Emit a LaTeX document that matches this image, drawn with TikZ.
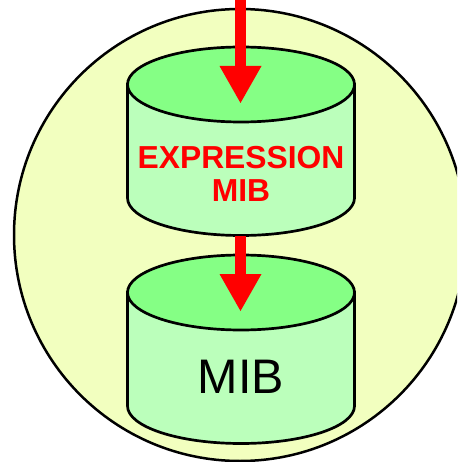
\documentclass[tikz,border=0pt]{standalone}
\usepackage{fontspec}
\setmainfont{Liberation Sans}
\definecolor{discbg}{HTML}{F2FFBF}
\definecolor{cyltop}{HTML}{85FF85}
\definecolor{cylbody}{HTML}{BBFFBB}
\tikzset{
  disc/.style={draw=black,line width=2.5pt,fill=discbg},
  cylside/.style={draw=black,line width=2.7pt,fill=cylbody},
  cyllid/.style={draw=black,line width=2.7pt,fill=cyltop},
  flow/.style={draw=red,line width=11pt},
  flowhead/.style={fill=red,draw=none},
  redlabel/.style={text=red,font=\bfseries\fontsize{31.8}{33.5}\selectfont,align=center,inner sep=0pt,anchor=base},
  blacklabel/.style={text=black,font=\fontsize{48.5}{50}\selectfont,inner sep=0pt,anchor=base},
}
\newcommand{\drum}[2]{%
  \path[cylside] (127.5,#1) -- (127.5,#2) arc[start angle=180,end angle=360,x radius=113.5,y radius=-37.5] -- (354.5,#1) -- cycle;
  \path[cyllid] (241,#1) ellipse[x radius=113.5,y radius=37.5];
}
\begin{document}
\begin{tikzpicture}[x=1pt,y=-1pt]
\useasboundingbox (0,0) rectangle (457,462);
\clip (0,0) rectangle (457,462);
\fill[white] (0,0) rectangle (457,462);
\path[disc] (240,235) circle[radius=226];
\drum{84.5}{198}
\drum{292.5}{406}
\coordinate (entry) at (240.5,0);
\coordinate (exprneck) at (240.5,67);
\coordinate (exprlid) at (240.5,103);
\coordinate (exprbase) at (240.5,236);
\coordinate (mibneck) at (240.5,275);
\coordinate (miblid) at (240.5,311);
\draw[flow] (entry) -- (exprneck);
\fill[flowhead] (exprlid) -- ++(-21,-37) -- ++(42,0) -- cycle;
\draw[flow] (exprbase) -- (mibneck);
\fill[flowhead] (miblid) -- ++(-21,-37) -- ++(42,0) -- cycle;
\node[redlabel] (exprtext) at (241,168) {EXPRESSION};
\node[redlabel] (exprmib) at (241,201.5) {MIB};
\node[blacklabel] (mib) at (241,393) {MIB};
\end{tikzpicture}
\end{document}
